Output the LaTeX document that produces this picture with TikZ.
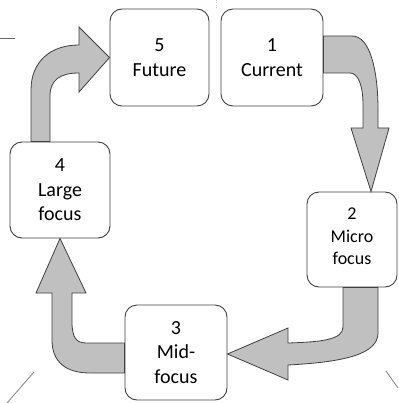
\documentclass[tikz,border=0pt]{standalone}
\usepackage{fontspec}
\setmainfont{Carlito}
\definecolor{arrowgray}{RGB}{192,192,192}
\definecolor{edgegray}{RGB}{64,64,64}

\begin{document}
\begin{tikzpicture}[x=1pt, y=-1pt,
  stage/.style={draw=edgegray, line width=0.9pt, rounded corners=12pt, fill=white,
    align=center, inner sep=0pt, font=\fontsize{20}{24.5}\selectfont},
  bigarrow/.style={draw=edgegray, line width=0.8pt, fill=arrowgray}]
\useasboundingbox (0,0) rectangle (398,403);

\node[stage, minimum width=102pt, minimum height=97pt] (cur) at (272,57.5) {1\\Current};
\node[stage, minimum width=90pt, minimum height=95pt, text depth=6pt,
  font=\fontsize{18}{22.5}\selectfont] (micro) at (352,239.5) {2\\Micro\\focus};
\node[stage, minimum width=102pt, minimum height=95pt] (mid) at (176,352.5) {3\\Mid-\\focus};
\node[stage, minimum width=100pt, minimum height=96pt] (large) at (60,190) {4\\Large\\focus};
\node[stage, minimum width=99pt, minimum height=97pt] (fut) at (159.5,57.5) {5\\Future};

% 1 -> 2
\draw[bigarrow] (cur.east |- 0,36) -- (352,36) .. controls (370,36) and (378,70) .. (378,110)
	-- (378,128) -- (389,128) -- (371,0 |- micro.north) -- (351,128) -- (363,128)
	-- (363,105) .. controls (363,85) and (358,73) .. (350,73) -- (cur.east |- 0,73) -- cycle;
% 2 -> 3
\draw[bigarrow] (378,0 |- micro.south) -- (378,333) .. controls (378,354) and (345,362) .. (288,365)
	-- (288,380) -- (mid.east |- 0,354) -- (288,328) -- (288,343)
	.. controls (320,342) and (343,340) .. (343,327) -- (343,0 |- micro.south) -- cycle;
% 3 -> 4
\draw[bigarrow] (mid.west |- 0,343) -- (86,343) .. controls (76,343) and (72,337) .. (72,322)
	-- (72,293) -- (86,293) -- (large.south) -- (36,293) -- (52,293)
	-- (52,340) .. controls (52,362) and (66,373) .. (90,373) -- (mid.west |- 0,373) -- cycle;
% 4 -> 5
\draw[bigarrow] (31,0 |- large.north) -- (31,90) .. controls (31,62) and (50,45) .. (79,45)
	-- (79,27) -- (fut.west) -- (79,92) -- (79,73)
	.. controls (60,73) and (50,80) .. (50,96) -- (50,0 |- large.north) -- cycle;

% loose strokes at the edges
\draw[gray!80!black, line width=0.8pt] (0,38) -- (15,38);
\draw[gray, line width=0.8pt] (7,403) -- (34,372);
\draw[gray, line width=0.8pt] (386,371) -- (398,388);
\draw[gray!50, dotted] (216,0) -- (216,8);
\end{tikzpicture}
\end{document}
